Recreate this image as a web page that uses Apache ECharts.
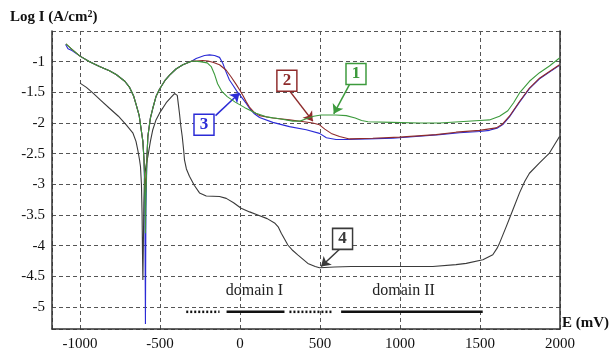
<!DOCTYPE html>
<html>
<head>
<meta charset="utf-8">
<script src="https://cdn.jsdelivr.net/npm/echarts@6/dist/echarts.min.js"></script>
<style>
  html, body { margin: 0; padding: 0; background: #fff; }
  #chart { width: 616px; height: 353px; }
</style>
</head>
<body>
<div id="chart"></div>
<script>
// Polarisation curves: log current density versus potential E (mV)

// Cathodic branch shared by curves 1-3
const cathodic = [[-1088,-0.71],[-1050,-0.80],[-1000,-0.91],[-940,-1.0],[-878,-1.08],[-816,-1.15],[-774,-1.21],[-720,-1.32],[-690,-1.42],[-665,-1.56],[-649,-1.70],[-630,-1.88],[-618,-2.1],[-607,-2.3],[-600,-2.6]];
// Curve 3 start differs slightly
const start3 = [[-1090,-0.72],[-1075,-0.79],[-1050,-0.82]];

// Corrosion-potential spikes
const spike1 = [[-595,-3.0],[-591,-3.8],[-588,-3.2]];
const spike2 = [[-595,-2.9],[-591,-3.15],[-588,-2.95]];
const spike3 = [[-595,-3.2],[-591,-5.28],[-588,-3.4]];

// Anodic rise shared by curves 1-3
const anodic = [[-582,-2.6],[-576,-2.22],[-560,-1.92],[-545,-1.76],[-525,-1.57],[-503,-1.45],[-470,-1.31],[-440,-1.22],[-400,-1.12],[-357,-1.05],[-300,-0.99]];

// Passive region and transpassive tail, per curve
const tail1 = [[-250,-1.0],[-205,-1.02],[-180,-1.08],[-160,-1.2],[-140,-1.36],[-115,-1.48],[-80,-1.57],[-30,-1.66],[30,-1.75],[100,-1.84],[164,-1.9],[247,-1.93],[330,-1.97],[375,-1.97],[414,-1.93],[460,-1.89],[507,-1.87],[600,-1.87],[664,-1.88],[720,-1.92],[760,-1.96],[800,-1.98],[950,-1.99],[1122,-2.0],[1247,-2.0],[1372,-1.98],[1497,-1.96],[1559,-1.95],[1622,-1.89],[1674,-1.80],[1710,-1.67],[1747,-1.51],[1809,-1.32],[1872,-1.18],[1934,-1.07],[1997,-0.94]];
const tail2 = [[-270,-0.99],[-234,-0.98],[-200,-0.99],[-170,-1.01],[-128,-1.05],[-86,-1.14],[-55,-1.25],[-24,-1.37],[0,-1.47],[20,-1.56],[40,-1.66],[59,-1.74],[90,-1.83],[122,-1.88],[205,-1.92],[309,-1.95],[400,-1.98],[455,-2.0],[497,-2.03],[530,-2.1],[570,-2.17],[622,-2.22],[684,-2.26],[830,-2.25],[997,-2.23],[1226,-2.19],[1351,-2.15],[1497,-2.12],[1601,-2.08],[1640,-2.02],[1684,-1.89],[1747,-1.65],[1809,-1.43],[1872,-1.27],[1934,-1.16],[1997,-1.05]];
const tail3 = [[-274,-0.95],[-222,-0.90],[-190,-0.89],[-159,-0.90],[-128,-0.93],[-107,-1.03],[-90,-1.15],[-66,-1.30],[-45,-1.38],[-20,-1.48],[7,-1.57],[39,-1.68],[59,-1.76],[90,-1.85],[122,-1.91],[205,-1.99],[309,-2.06],[414,-2.11],[497,-2.17],[540,-2.24],[600,-2.27],[664,-2.27],[800,-2.26],[955,-2.25],[1100,-2.22],[1247,-2.19],[1372,-2.16],[1497,-2.14],[1559,-2.12],[1611,-2.08],[1645,-2.02],[1684,-1.90],[1747,-1.66],[1809,-1.44],[1872,-1.28],[1934,-1.17],[1997,-1.06]];

// Curve 4
const curve4 = [[-1000,-1.35],[-960,-1.42],[-920,-1.51],[-870,-1.63],[-816,-1.76],[-760,-1.89],[-711,-2.03],[-670,-2.16],[-650,-2.3],[-639,-2.44],[-628,-2.6],[-622,-2.71],[-616,-3.0],[-612,-3.5],[-609,-4.2],[-607,-4.56],[-604,-4.0],[-601,-3.3],[-597,-2.9],[-588,-2.7],[-576,-2.55],[-560,-2.3],[-545,-2.11],[-525,-1.95],[-503,-1.84],[-461,-1.67],[-430,-1.58],[-409,-1.52],[-399,-1.50],[-392,-1.55],[-385,-1.7],[-378,-1.85],[-370,-2.05],[-361,-2.22],[-352,-2.45],[-347,-2.6],[-335,-2.75],[-316,-2.87],[-285,-3.02],[-253,-3.14],[-211,-3.19],[-128,-3.2],[-86,-3.23],[-40,-3.3],[7,-3.39],[60,-3.45],[111,-3.5],[170,-3.56],[216,-3.63],[240,-3.7],[258,-3.80],[280,-3.9],[299,-3.99],[330,-4.08],[361,-4.15],[424,-4.29],[470,-4.34],[497,-4.36],[591,-4.35],[695,-4.34],[1000,-4.34],[1205,-4.34],[1350,-4.31],[1414,-4.29],[1518,-4.23],[1580,-4.15],[1605,-4.05],[1622,-3.96],[1664,-3.69],[1705,-3.42],[1747,-3.14],[1780,-2.95],[1809,-2.82],[1872,-2.65],[1934,-2.49],[1997,-2.22]];

const curve1 = [...cathodic, ...spike1, ...anodic, ...tail1];
const curve2 = [...cathodic, ...spike2, ...anodic, ...tail2];
const curve3 = [...start3, ...cathodic.slice(2), ...spike3, ...anodic, ...tail3];

// Potential domains marked under the curves
const domainLevel = -5.08;
const domainDotted = [[-336,-128],[309,578]];
const domainSolid = [[-84,278],[632,1517]];
const domainNames = ['domain I', 'domain II'];
const domainNameAt = [[90,-4.74],[1022,-4.74]];

// Curve tags: label, box centre, arrow start, arrow tip
const tags = [
  { text: '1', box: [725,-1.2],   from: [689,-1.35],  to: [586,-1.85] },
  { text: '2', box: [293,-1.31],  from: [305,-1.46],  to: [455,-1.97] },
  { text: '3', box: [-225,-2.03], from: [-153,-1.88], to: [-3,-1.51] },
  { text: '4', box: [641,-3.89],  from: [622,-4.06],  to: [507,-4.34] }
];

const colors = ['#3c9a3c', '#8e2b2b', '#2b2bd6', '#3a3a3a'];
// drawing order: blue under red under green
const zOrder = [5, 4, 3, 3];
const SERIF = "'Liberation Serif', 'Times New Roman', serif";

function tagMarks(i) {
  const t = tags[i], c = colors[i];
  return {
    markPoint: {
      silent: true, animation: false,
      symbol: 'rect', symbolSize: [20, 21],
      itemStyle: { color: '#fff', borderColor: c, borderWidth: 1.5 },
      label: { show: true, position: 'inside', formatter: t.text, color: c,
               fontFamily: SERIF, fontWeight: 'bold', fontSize: 17 },
      data: [{ coord: t.box }]
    },
    markLine: {
      silent: true, animation: false,
      symbol: ['none', 'arrow'], symbolSize: 9,
      lineStyle: { color: c, width: 1.5, type: 'solid' },
      label: { show: false },
      data: [[{ coord: t.from }, { coord: t.to }]]
    }
  };
}

const curveSeries = [curve1, curve2, curve3, curve4].map((d, i) => Object.assign({
  type: 'line', data: d, showSymbol: false, animation: false, z: zOrder[i],
  lineStyle: { color: colors[i], width: 1.1 }
}, tagMarks(i)));

const domainSeries = [];
domainDotted.forEach(r => domainSeries.push({
  type: 'line', data: r.map(x => [x, domainLevel]), showSymbol: false, animation: false,
  lineStyle: { color: '#111', width: 2.5, type: [2, 2] }
}));
domainSolid.forEach(r => domainSeries.push({
  type: 'line', data: r.map(x => [x, domainLevel]), showSymbol: false, animation: false,
  lineStyle: { color: '#111', width: 2.5 }
}));
domainSeries[0].markPoint = {
  silent: true, animation: false, symbol: 'rect', symbolSize: 1,
  itemStyle: { color: 'rgba(0,0,0,0)' },
  label: { show: true, position: 'inside', color: '#222', fontFamily: SERIF, fontSize: 16,
           formatter: p => p.name },
  data: domainNames.map((n, i) => ({ name: n, coord: domainNameAt[i] }))
};

const chart = echarts.init(document.getElementById('chart'), null, { renderer: 'canvas' });
chart.setOption({
  backgroundColor: '#fff',
  animation: false,
  grid: { left: 52, right: 56, top: 31, bottom: 24 },
  xAxis: {
    type: 'value', min: -1175, max: 2000, splitNumber: 6,
    axisLine: { show: true, onZero: false, lineStyle: { color: '#333', width: 1.5 } },
    axisTick: { show: false },
    axisLabel: { showMinLabel: false, formatter: v => String(v), color: '#111',
                 fontFamily: SERIF, fontSize: 15, margin: 8 },
    splitLine: { show: true, lineStyle: { color: '#555', type: [4, 3], width: 1 } }
  },
  yAxis: [{
    type: 'value', min: -5.36, max: -0.5, splitNumber: 10,
    axisLine: { show: true, onZero: false, lineStyle: { color: '#333', width: 1.5 } },
    axisTick: { show: false },
    axisLabel: { showMinLabel: false, showMaxLabel: false, formatter: v => String(v),
                 color: '#111', fontFamily: SERIF, fontSize: 15, margin: 7 },
    splitLine: { show: true, lineStyle: { color: '#555', type: [4, 3], width: 1 } }
  }, {
    type: 'value', min: -5.36, max: -0.5, position: 'right',
    axisLine: { show: true, onZero: false, lineStyle: { color: '#333', width: 1.5 } },
    axisTick: { show: false }, axisLabel: { show: false }, splitLine: { show: false }
  }],
  graphic: [
    { type: 'text', left: 10, top: 9, style: {
        rich: { b: { font: "bold 15px 'Liberation Serif', serif", fill: '#111' },
                s: { font: "bold 10px 'Liberation Serif', serif", fill: '#111', verticalAlign: 'top', padding: [0,0,6,0] } },
        text: '{b|Log I (A/cm}{s|2}{b|)}' } },
    { type: 'text', left: 562, top: 316, style: {
        text: 'E (mV)', font: "bold 15px 'Liberation Serif', serif", fill: '#111' } }
  ],
  series: [...curveSeries, ...domainSeries]
});
</script>
</body>
</html>
